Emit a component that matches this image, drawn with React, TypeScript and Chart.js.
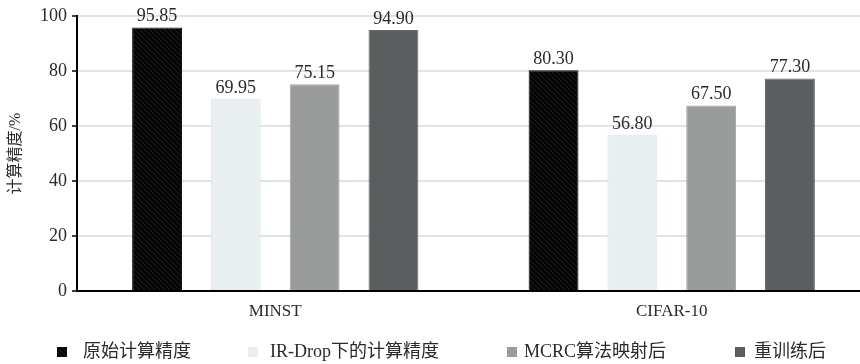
import React, { useEffect, useRef } from "react";
import { Chart, registerables } from "chart.js";

Chart.register(...registerables);

// Dataset categories and accuracy values (%)
const categories = ["MINST", "CIFAR-10"];
const seriesNames = ["原始计算精度", "IR-Drop下的计算精度", "MCRC算法映射后", "重训练后"];
const originalAcc = [95.85, 80.3];
const irDropAcc = [69.95, 56.8];
const mcrcAcc = [75.15, 67.5];
const retrainedAcc = [94.9, 77.3];
const yTicks = [0, 20, 40, 60, 80, 100];

const FONT = "'Liberation Serif', 'Noto Sans CJK SC', serif";
const TEXT = "#2a2a2a";

function makeHatch(): CanvasPattern | string {
  const c = document.createElement("canvas");
  c.width = 5;
  c.height = 5;
  const g = c.getContext("2d");
  if (!g) return "#000";
  g.fillStyle = "#050505";
  g.fillRect(0, 0, 5, 5);
  g.strokeStyle = "#2b2b2b";
  g.lineWidth = 0.7;
  g.beginPath();
  g.moveTo(0, 0);
  g.lineTo(5, 5);
  g.moveTo(-1, 4);
  g.lineTo(1, 6);
  g.moveTo(4, -1);
  g.lineTo(6, 1);
  g.stroke();
  return g.createPattern(c, "repeat") || "#000";
}

// Draws the numeric value above each bar
const valueLabels = {
  id: "valueLabels",
  afterDatasetsDraw(chart: any) {
    const ctx = chart.ctx;
    ctx.save();
    ctx.font = `18px ${FONT}`;
    ctx.fillStyle = TEXT;
    ctx.textAlign = "center";
    ctx.textBaseline = "alphabetic";
    chart.data.datasets.forEach((ds: any, di: number) => {
      const meta = chart.getDatasetMeta(di);
      meta.data.forEach((bar: any, i: number) => {
        ctx.fillText(Number(ds.data[i]).toFixed(2), bar.x, bar.y - 6);
      });
    });
    ctx.restore();
  },
};

// Legend row along the bottom of the canvas
const legendBoxX = [57, 248, 507, 735];
const legendTextX = [83, 270, 524, 754];
const bottomLegend = {
  id: "bottomLegend",
  afterDraw(chart: any) {
    const ctx = chart.ctx;
    ctx.save();
    ctx.font = `18px ${FONT}`;
    ctx.textBaseline = "middle";
    ctx.textAlign = "left";
    const y = 352;
    chart.data.datasets.forEach((ds: any, di: number) => {
      const x = legendBoxX[di];
      ctx.fillStyle = ds.backgroundColor;
      ctx.fillRect(x, y - 5, 10, 10);
      ctx.fillStyle = TEXT;
      ctx.fillText(ds.label, legendTextX[di], y);
    });
    ctx.restore();
  },
};

export default function App() {
  const ref = useRef<HTMLCanvasElement>(null);

  useEffect(() => {
    if (!ref.current) return;
    const hatch = makeHatch();
    const chart = new Chart(ref.current, {
      type: "bar",
      data: {
        labels: categories,
        datasets: [
          { label: seriesNames[0], data: originalAcc, backgroundColor: hatch as any, borderColor: "#111", borderWidth: 1 },
          { label: seriesNames[1], data: irDropAcc, backgroundColor: "#e9eff0", borderColor: "#dfe5e6", borderWidth: 1 },
          { label: seriesNames[2], data: mcrcAcc, backgroundColor: "#9a9b9b", borderColor: "#a4a5a5", borderWidth: 1 },
          { label: seriesNames[3], data: retrainedAcc, backgroundColor: "#5b5d5f", borderColor: "#666869", borderWidth: 1 },
        ],
      },
      options: {
        animation: false,
        responsive: false,
        devicePixelRatio: 1,
        layout: { padding: { top: 16, right: 10, left: 0, bottom: 0 } },
        plugins: { legend: { display: false }, tooltip: { enabled: false } },
        datasets: { bar: { barPercentage: 0.633, categoryPercentage: 0.795 } },
        scales: {
          x: {
            grid: { display: false, drawTicks: false },
            border: { color: "#000", width: 2 },
            ticks: { font: { family: FONT, size: 17 }, color: TEXT, padding: 10 },
            afterFit(s: any) {
              s.height = 73;
            },
          },
          y: {
            min: 0,
            max: 100,
            afterBuildTicks(s: any) {
              s.ticks = yTicks.map((v) => ({ value: v }));
            },
            grid: { color: "#dfe4e4", lineWidth: 2, tickLength: 5, tickColor: "#000", tickWidth: 1.5 } as any,
            border: { color: "#000", width: 2 },
            ticks: { font: { family: FONT, size: 18 }, color: TEXT, padding: 5 },
            title: {
              display: true,
              text: "计算精度/%",
              font: { family: FONT, size: 16 },
              color: TEXT,
              padding: { top: 6, bottom: 0 },
            },
            afterFit(s: any) {
              s.width = 77;
            },
          },
        },
      },
      plugins: [valueLabels, bottomLegend],
    });
    return () => chart.destroy();
  }, []);

  return (
    <div style={{ position: "fixed", left: 0, top: 0, width: 860, height: 364, overflow: "hidden", background: "#fff" }}>
      <canvas ref={ref} width={880} height={364} style={{ display: "block" }} />
    </div>
  );
}
